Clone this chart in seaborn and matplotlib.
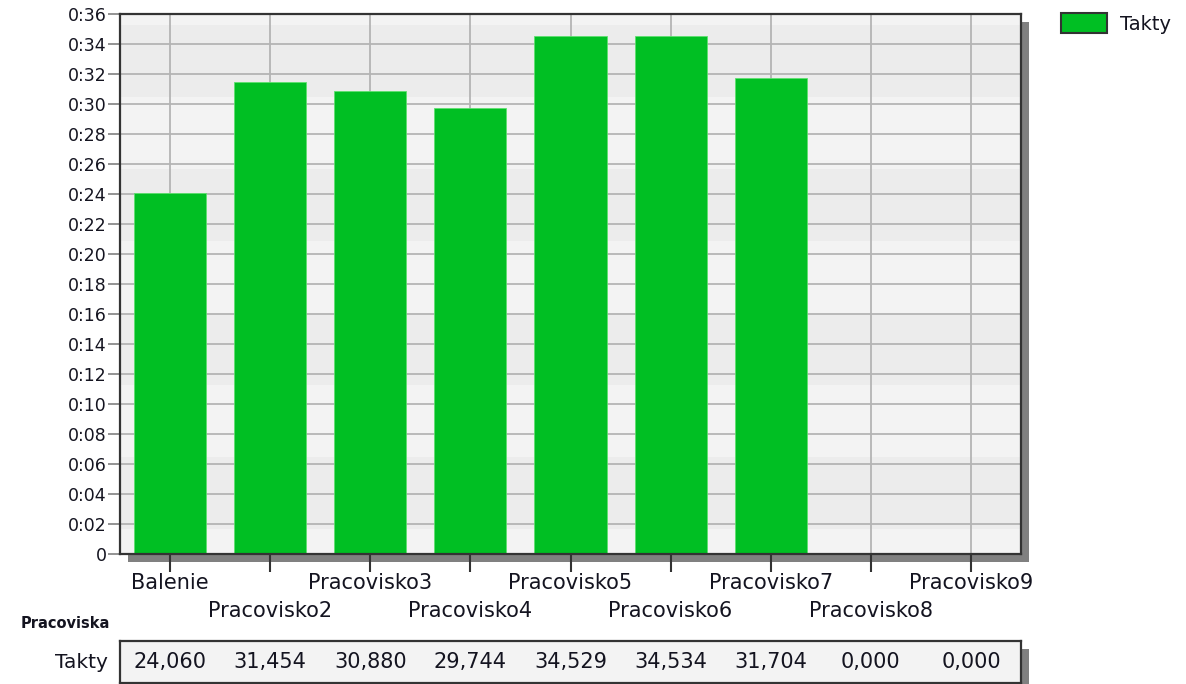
import matplotlib
matplotlib.use("Agg")
import matplotlib.pyplot as plt
import seaborn as sns
import pandas as pd
from matplotlib.patches import Rectangle
from matplotlib.ticker import FuncFormatter, MultipleLocator

categories = ["Balenie", "Pracovisko2", "Pracovisko3", "Pracovisko4", "Pracovisko5",
              "Pracovisko6", "Pracovisko7", "Pracovisko8", "Pracovisko9"]
takty = [24.060, 31.454, 30.880, 29.744, 34.529, 34.534, 31.704, 0.000, 0.000]
series_name = "Takty"
axis_name = "Pracoviska"

df = pd.DataFrame({"pracovisko": categories, "takt": takty})

sns.set_theme(style="white")
plt.rcParams['font.family'] = ['DejaVu Sans']
TXT = "#141420"

W, H = 1186, 684
fig = plt.figure(figsize=(W / 100, H / 100), dpi=100)

def fbox(x0, y0, x1, y1):
    # pixel box (top-left origin) -> figure fraction rect
    return [x0 / W, 1 - y1 / H, (x1 - x0) / W, (y1 - y0) / H]

ax = fig.add_axes(fbox(120, 14, 1021, 554))
ax_t = fig.add_axes(fbox(120, 641, 1021, 683))

# drop shadows behind the plot area and the table
for (x0, y0, x1, y1) in [(128, 22, 1029, 562), (128, 649, 1029, 700)]:
    fig.patches.append(Rectangle((x0, H - y1), x1 - x0, y1 - y0, transform=None,
                                 facecolor="#808080", edgecolor="none", zorder=-1))

# background bands
ax.set_facecolor("#f3f3f3")
top = 35.3
dark = True
while top > 0:
    if dark:
        ax.axhspan(max(top - 4.8, 0), top, color="#ececec", zorder=0, lw=0)
    dark = not dark
    top -= 4.8

sns.barplot(data=df, x="pracovisko", y="takt", color="#00bf23", width=0.72,
            edgecolor="#5ee06f", linewidth=0.6, saturation=1, label=series_name,
            ax=ax, zorder=2)

ax.set_ylim(0, 36)
ax.set_xlim(-0.5, len(categories) - 0.5)
ax.yaxis.set_major_locator(MultipleLocator(2))
ax.yaxis.set_major_formatter(FuncFormatter(lambda v, p: "0" if v == 0 else "0:%02d" % v))
ax.set_axisbelow(True)
ax.grid(True, color="#b4b4b4", lw=1.3, zorder=0.5)
for s in ax.spines.values():
    s.set_color("#333333")
    s.set_linewidth(1.6)

ax.set_xticks(range(len(categories)))
ax.set_xticklabels(categories, fontsize=15, color=TXT)
ax.tick_params(axis="x", direction="out", length=13, width=1.5, color="#333333", pad=1,
               bottom=True)
ax.tick_params(axis="y", direction="out", length=8.5, width=1.3, color="#8a8a8a", pad=1,
               labelsize=12.5, labelcolor=TXT, left=True)
# staggered category labels: every second one on a lower row
for i, tick in enumerate(ax.xaxis.get_major_ticks()):
    if i % 2 == 1:
        tick.set_pad(20.5)
ax.set_xlabel("")
ax.set_ylabel("")

# legend
leg = fig.legend(loc="upper left", bbox_to_anchor=(1061 / W, 1 - 13 / H), frameon=False,
                 fontsize=14, handlelength=2.35, handleheight=1.2, handletextpad=0.7,
                 borderpad=0, borderaxespad=0, labelcolor=TXT)
leg.legend_handles[0].set_edgecolor("#333333")
leg.legend_handles[0].set_linewidth(1.5)
if ax.get_legend() is not None:
    ax.get_legend().remove()

# data table
ax_t.set_facecolor("#f3f3f3")
ax_t.set_xlim(-0.5, len(categories) - 0.5)
ax_t.set_ylim(0, 1)
ax_t.set_xticks([])
ax_t.set_yticks([])
for s in ax_t.spines.values():
    s.set_color("#333333")
    s.set_linewidth(1.6)
for i, v in enumerate(takty):
    ax_t.text(i, 0.5, f"{v:.3f}".replace(".", ","), ha="center", va="center",
              fontsize=15, color=TXT)
fig.text(108 / W, 1 - 662 / H, series_name, ha="right", va="center", fontsize=14.5, color=TXT)
fig.text(21 / W, 1 - 624 / H, axis_name, ha="left", va="center", fontsize=10.5,
         fontweight="bold", color=TXT)

fig.savefig("out.png", dpi=100)
